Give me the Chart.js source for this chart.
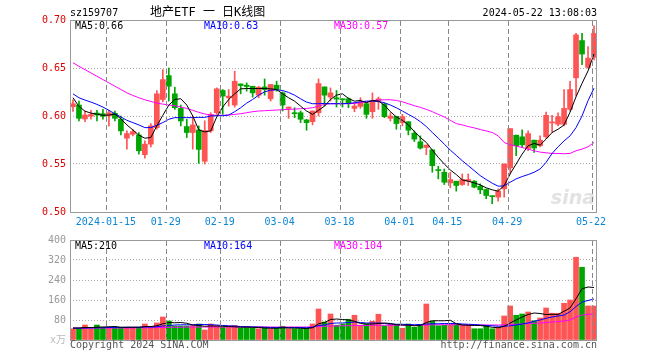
<!DOCTYPE html>
<html lang="zh">
<head>
<meta charset="UTF-8">
<title>地产ETF 日K线图</title>
<style>
  body { margin: 0; background: #fff; }
  #wrap { position: relative; width: 660px; height: 360px; font-family: "DejaVu Sans Mono", "Noto Sans CJK SC", monospace; font-size: 10px; }
  canvas { position: absolute; left: 0; }
  #kline { top: 0; }
  #vol { top: 228px; }
  .t { position: absolute; white-space: pre; line-height: 10px; }
</style>
<script src="https://cdn.jsdelivr.net/npm/chart.js"></script>
</head>
<body>
<div id="wrap">
  <canvas id="kline" width="660" height="228"></canvas>
  <canvas id="vol" width="660" height="132"></canvas>
  <div class="t" style="left:70px;top:8px">sz159707</div>
  <div class="t" style="left:150px;top:6px;font-size:12px;line-height:12px">地产ETF 一 日K线图</div>
  <div class="t" style="right:63px;top:8px">2024-05-22 13:08:03</div>
  <div class="t" id="ma5txt" style="left:75px;top:21px;color:#000"></div>
  <div class="t" id="ma10txt" style="left:204px;top:21px;color:#0000ff"></div>
  <div class="t" id="ma30txt" style="left:334px;top:21px;color:#ff00ff"></div>
  <div class="t" id="vma5txt" style="left:75px;top:241px;color:#000"></div>
  <div class="t" id="vma10txt" style="left:204px;top:241px;color:#0000ff"></div>
  <div class="t" id="vma30txt" style="left:334px;top:241px;color:#ff00ff"></div>
  <div class="t" style="left:70px;top:340px;color:#555">Copyright 2024 SINA.COM</div>
  <div class="t" style="right:63px;top:340px;color:#555">http://finance.sina.com.cn</div>
</div>

<script>
// 交易日
const dates = [
  '2024-01-05','2024-01-08','2024-01-09','2024-01-10','2024-01-11','2024-01-12',
  '2024-01-15','2024-01-16','2024-01-17','2024-01-18','2024-01-19',
  '2024-01-22','2024-01-23','2024-01-24','2024-01-25','2024-01-26',
  '2024-01-29','2024-01-30','2024-01-31','2024-02-01','2024-02-02',
  '2024-02-05','2024-02-06','2024-02-07','2024-02-08',
  '2024-02-19','2024-02-20','2024-02-21','2024-02-22','2024-02-23',
  '2024-02-26','2024-02-27','2024-02-28','2024-02-29','2024-03-01',
  '2024-03-04','2024-03-05','2024-03-06','2024-03-07','2024-03-08',
  '2024-03-11','2024-03-12','2024-03-13','2024-03-14','2024-03-15',
  '2024-03-18','2024-03-19','2024-03-20','2024-03-21','2024-03-22',
  '2024-03-25','2024-03-26','2024-03-27','2024-03-28','2024-03-29',
  '2024-04-01','2024-04-02','2024-04-03',
  '2024-04-08','2024-04-09','2024-04-10','2024-04-11','2024-04-12',
  '2024-04-15','2024-04-16','2024-04-17','2024-04-18','2024-04-19',
  '2024-04-22','2024-04-23','2024-04-24','2024-04-25','2024-04-26',
  '2024-04-29','2024-04-30',
  '2024-05-06','2024-05-07','2024-05-08','2024-05-09','2024-05-10',
  '2024-05-13','2024-05-14','2024-05-15','2024-05-16','2024-05-17',
  '2024-05-20','2024-05-21','2024-05-22'
];

// 横轴刻度
const markDates = ['2024-01-15','2024-01-29','2024-02-19','2024-03-04','2024-03-18','2024-04-01','2024-04-15','2024-04-29','2024-05-22'];
const markText  = ['2024-01-15','01-29','02-19','03-04','03-18','04-01','04-15','04-29','05-22'];

// 开 高 低 收
const open = [
  .6097,.6114,.5969,.5997,.6031,.6024,.6000,.6028,.5966,.5769,
  .5810,.5803,.5597,.5707,.5879,.6172,.6421,.6231,.6079,.5890,
  .5828,.5855,.5528,.5845,.6034,.6266,.6190,.6114,.6334,.6321,
  .6310,.6217,.6303,.6179,.6321,.6241,.6079,.6034,.6034,.5959,
  .5941,.6034,.6303,.6197,.6190,.6179,.6179,.6079,.6100,.6128,
  .6045,.6155,.6121,.5976,.5997,.5931,.5941,.5821,.5731,.5672,
  .5648,.5441,.5414,.5303,.5321,.5286,.5321,.5321,.5269,.5234,
  .5166,.5155,.5241,.5459,.5800,.5783,.5662,.5748,.5690,.5783,
  .5928,.5914,.5914,.6069,.6397,.6786,.6507,.6611
];
const high = [
  .6169,.6155,.6052,.6059,.6059,.6069,.6059,.6052,.6000,.5845,
  .5862,.5828,.5741,.5921,.6266,.6483,.6500,.6300,.6114,.5966,
  .6000,.5897,.5950,.6034,.6293,.6276,.6276,.6466,.6334,.6345,
  .6310,.6310,.6386,.6328,.6362,.6252,.6093,.6086,.6052,.5966,
  .6052,.6386,.6303,.6293,.6266,.6179,.6190,.6138,.6190,.6138,
  .6241,.6197,.6138,.6034,.5997,.6017,.5941,.5845,.5793,.5697,
  .5648,.5476,.5448,.5414,.5321,.5397,.5397,.5328,.5293,.5241,
  .5166,.5241,.5500,.5869,.5800,.5855,.5845,.5748,.5793,.6041,
  .6007,.6034,.6276,.6362,.6862,.6862,.6722,.6938
];
const low = [
  .6048,.5948,.5941,.5966,.5948,.5966,.5893,.5948,.5803,.5655,
  .5793,.5603,.5562,.5679,.5862,.6148,.6155,.6069,.5897,.5776,
  .5655,.5507,.5500,.5828,.6017,.6017,.6103,.6093,.6231,.6259,
  .6197,.6190,.6217,.6155,.6259,.6052,.5976,.5983,.5931,.5852,
  .5907,.6000,.6103,.6155,.6093,.6093,.6086,.6045,.6079,.5976,
  .5976,.6069,.5983,.5948,.5862,.5897,.5803,.5734,.5655,.5597,
  .5414,.5345,.5286,.5252,.5217,.5276,.5276,.5252,.5190,.5138,
  .5086,.5114,.5155,.5397,.5586,.5672,.5638,.5621,.5679,.5766,
  .5828,.5897,.5897,.6052,.6207,.6534,.6497,.6583
];
const close = [
  .6128,.5976,.6010,.6017,.6010,.5997,.6034,.5976,.5845,.5817,
  .5838,.5638,.5707,.5897,.6231,.6379,.6310,.6086,.5948,.5828,
  .5907,.5652,.5850,.6017,.6283,.6207,.6207,.6362,.6317,.6307,
  .6241,.6300,.6276,.6328,.6276,.6114,.6093,.6024,.5966,.5931,
  .6052,.6338,.6217,.6241,.6176,.6169,.6128,.6103,.6145,.6017,
  .6155,.6179,.5993,.6000,.5921,.5993,.5852,.5759,.5666,.5697,
  .5483,.5431,.5310,.5338,.5276,.5338,.5338,.5259,.5231,.5172,
  .5160,.5217,.5500,.5869,.5690,.5700,.5817,.5666,.5748,.6007,
  .5938,.5993,.6079,.6276,.6845,.6645,.6603,.6861
];

// 均线
const ma5 = [
  .619,.610,.605,.603,.602,.6007,.601,.602,.597,.5907,
  .5855,.580,.5769,.5776,.5897,.6007,.6114,.6172,.618,.6114,
  .600,.5855,.5834,.5845,.599,.6093,.6172,.6231,.6283,.6286,
  .6286,.6286,.6286,.6283,.6276,.6231,.619,.6155,.6103,.6052,
  .6017,.6059,.6103,.6172,.6217,.6231,.6183,.6155,.6162,.6138,
  .6162,.6155,.6114,.6045,.599,.5955,.5907,.5838,.5776,.5724,
  .5645,.5569,.550,.5438,.539,.5334,.5321,.5303,.5283,.5252,
  .5231,.5217,.5276,.5397,.550,.5603,.569,.5714,.5697,.5759,
  .5828,.5862,.5907,.604,.620,.634,.647,.6646
];
const ma10 = [
  .6231,.619,.6166,.6145,.6121,.6093,.6059,.6024,.599,.5955,
  .5931,.5907,.5879,.5879,.5903,.5931,.5966,.5983,.5983,.5983,
  .5983,.5986,.5986,.600,.6003,.6003,.601,.6045,.6086,.6134,
  .6172,.6217,.6252,.6269,.6272,.6266,.6245,.6217,.6179,.6145,
  .6128,.6128,.6131,.6128,.6128,.6128,.6131,.6138,.6148,.6155,
  .6155,.6152,.6138,.6114,.6086,.6052,.6017,.5983,.5941,.589,
  .5828,.5769,.5707,.5645,.559,.5534,.5483,.5431,.5379,.5338,
  .530,.5269,.5272,.531,.5345,.5369,.539,.5414,.5448,.5517,
  .561,.5679,.5741,.5793,.5879,.600,.616,.629
];
const ma30 = [
  .6555,.6517,.6483,.6448,.6414,.6379,.6345,.631,.6276,.6241,
  .6214,.619,.6169,.6152,.6134,.6124,.6114,.6107,.6093,.6079,
  .6059,.6038,.6021,.601,.6007,.6007,.601,.6017,.6024,.6034,
  .6045,.6052,.6055,.6059,.6062,.6066,.6069,.6072,.6076,.6079,
  .6086,.6103,.6121,.6128,.6128,.6128,.6128,.6131,.6138,.6148,
  .6159,.6166,.6169,.6169,.6162,.6148,.6128,.6107,.609,.6069,
  .6045,.6017,.599,.5955,.5921,.5907,.589,.5876,.5859,.5845,
  .5828,.5793,.5724,.570,.5686,.5672,.5655,.5638,.5624,.5617,
  .561,.561,.5607,.561,.5638,.5655,.5679,.5724
];

// 成交量(万)
const volume = [
  45,45,60,45,60,51,51,51,51,51,
  51,51,64,51,68,92,76,56,56,56,
  58,64,40,64,56,51,51,58,47,51,
  48,45,51,45,48,55,45,45,45,48,
  64,124,72,104,59,64,83,99,59,64,
  75,103,57,64,61,47,64,51,61,144,
  75,57,59,64,64,59,59,45,45,59,
  45,51,96,136,99,104,112,77,88,128,
  107,107,147,160,331,291,136,136
];
const vma5 = [
  48,48,50,50,51,52,53,54,51,51,
  51,51,54,54,57,65,70,69,70,67,
  60,58,55,56,56,55,54,53,51,52,
  51,50,48,47,47,49,48,48,47,46,
  49,65,70,82,84,82,80,75,66,64,
  64,66,68,66,61,60,59,57,58,70,
  77,77,77,79,65,60,59,58,58,55,
  51,49,55,68,80,92,102,108,106,102,
  103,102,115,128,165,205,212,210
];
const vma10 = [
  47,47,48,48,49,49,50,50,50,51,
  51,51,52,52,53,56,58,60,61,61,
  61,62,62,61,60,58,57,56,54,53,
  52,52,51,50,50,50,50,50,50,49,
  51,58,60,66,68,68,70,72,70,68,
  68,68,66,64,63,63,62,61,62,64,
  65,65,66,66,66,64,63,62,60,58,
  57,55,55,57,60,64,68,75,80,87,
  92,96,100,113,134,152,158,164
];
const vma30 = [
  48,48,48,48,48,48,48,48,48,48,
  48,49,49,49,50,50,51,51,51,52,
  52,52,52,52,52,52,52,52,52,52,
  52,52,52,52,52,52,52,52,52,52,
  53,54,55,56,56,57,57,58,58,58,
  59,59,59,59,59,59,59,59,59,60,
  61,61,61,61,61,60,60,60,60,60,
  60,60,61,62,63,64,66,67,68,70,
  72,74,76,80,92,100,103,104
];

const UP = '#ff5454';
const DOWN = '#00a600';
const GRID = '#aaaaaa';

Chart.defaults.font.family = '"DejaVu Sans Mono", "Noto Sans CJK SC", monospace';
Chart.defaults.font.size = 10;

const last = arr => arr[arr.length - 1];
document.getElementById('ma5txt').textContent = 'MA5:' + last(ma5).toFixed(2);
document.getElementById('ma10txt').textContent = 'MA10:' + last(ma10).toFixed(2);
document.getElementById('ma30txt').textContent = 'MA30:' + last(ma30).toFixed(2);
document.getElementById('vma5txt').textContent = 'MA5:' + Math.round(last(vma5));
document.getElementById('vma10txt').textContent = 'MA10:' + Math.round(last(vma10));
document.getElementById('vma30txt').textContent = 'MA30:' + Math.round(last(vma30));

const candleColor = open.map((o, i) => close[i] >= o ? UP : DOWN);
const markIdx = markDates.map(d => dates.indexOf(d));

// 外框 + 日期竖虚线
const frame = {
  id: 'frame',
  afterDraw(chart) {
    const a = chart.chartArea, ctx = chart.ctx, sx = chart.scales.x;
    ctx.save();
    ctx.strokeStyle = '#888888';
    ctx.lineWidth = 1;
    ctx.setLineDash([5, 3]);
    markIdx.forEach(i => {
      const px = Math.round(sx.getPixelForValue(i) - 2.5) + 0.5;
      ctx.beginPath();
      ctx.moveTo(px, Math.round(a.top) + 1);
      ctx.lineTo(px, Math.round(a.bottom));
      ctx.stroke();
    });
    ctx.setLineDash([]);
    ctx.strokeStyle = '#999';
    ctx.strokeRect(Math.round(a.left) + 0.5, Math.round(a.top) + 0.5,
                   Math.round(a.right - a.left) - 1, Math.round(a.bottom - a.top));
    ctx.restore();
  }
};

// 水印
const sinaMark = {
  id: 'sinaMark',
  beforeDatasetsDraw(chart) {
    const a = chart.chartArea, ctx = chart.ctx;
    ctx.save();
    ctx.font = 'italic bold 19px "DejaVu Sans"';
    ctx.fillStyle = '#e2e2e2';
    ctx.textAlign = 'right';
    ctx.textBaseline = 'alphabetic';
    ctx.fillText('sina', a.right - 2, a.bottom - 8);
    ctx.restore();
  }
};

function xScale(showLabels) {
  return {
    offset: true,
    grid: { display: false, drawTicks: false },
    border: { display: false },
    ticks: {
      display: showLabels,
      autoSkip: false,
      maxRotation: 0,
      padding: 4,
      labelOffset: -3,
      color: '#0b86d6',
      callback: (v, i) => {
        const k = markIdx.indexOf(i);
        return k >= 0 ? markText[k] : '';
      }
    },
    afterFit: s => { s.height = showLabels ? 16 : 20; }
  };
}

function maLine(label, data, color) {
  return {
    type: 'line', label, data,
    borderColor: color, borderWidth: 1,
    pointRadius: 0, tension: 0, order: 0
  };
}

new Chart(document.getElementById('kline'), {
  type: 'bar',
  data: {
    labels: dates,
    datasets: [
      maLine('MA5', ma5, '#000000'),
      maLine('MA10', ma10, '#0000ff'),
      maLine('MA30', ma30, '#ff00ff'),
      {
        label: '影线',
        data: low.map((l, i) => [l, high[i]]),
        backgroundColor: candleColor,
        barThickness: 1, grouped: false, order: 2
      },
      {
        label: '实体',
        data: open.map((o, i) => [o, close[i]]),
        backgroundColor: candleColor,
        barThickness: 5, grouped: false, minBarLength: 1, order: 1
      }
    ]
  },
  options: {
    responsive: false,
    animation: false,
    devicePixelRatio: 1,
    layout: { padding: { top: 20, right: 63, left: 0, bottom: 0 } },
    plugins: { legend: { display: false }, tooltip: { enabled: false } },
    scales: {
      x: xScale(true),
      y: {
        min: 0.5, max: 0.7,
        grid: {
          drawTicks: false,
          color: c => (c.tick.value > 0.51 && c.tick.value < 0.69) ? GRID : 'transparent'
        },
        border: { display: false, dash: [1, 2] },
        ticks: { stepSize: 0.05, padding: 4, color: '#dd0000', callback: v => v.toFixed(2) },
        afterFit: s => { s.width = 70; }
      }
    }
  },
  plugins: [sinaMark, frame]
});

new Chart(document.getElementById('vol'), {
  type: 'bar',
  data: {
    labels: dates,
    datasets: [
      maLine('MA5', vma5, '#000000'),
      maLine('MA10', vma10, '#0000ff'),
      maLine('MA30', vma30, '#ff00ff'),
      {
        label: '成交量',
        data: volume,
        backgroundColor: candleColor,
        barThickness: 5, order: 1
      }
    ]
  },
  options: {
    responsive: false,
    animation: false,
    devicePixelRatio: 1,
    layout: { padding: { top: 12, right: 63, left: 0, bottom: 0 } },
    plugins: { legend: { display: false }, tooltip: { enabled: false } },
    scales: {
      x: xScale(false),
      y: {
        min: 0, max: 400,
        grid: {
          drawTicks: false,
          color: c => (c.tick.value > 0 && c.tick.value < 400) ? GRID : 'transparent'
        },
        border: { display: false, dash: [1, 2] },
        ticks: {
          stepSize: 80, padding: 4,
          color: c => c.tick.value === 0 ? '#bbbbbb' : '#999999',
          callback: v => v === 0 ? 'x万' : v
        },
        afterFit: s => { s.width = 70; }
      }
    }
  },
  plugins: [frame]
});
</script>
</body>
</html>
